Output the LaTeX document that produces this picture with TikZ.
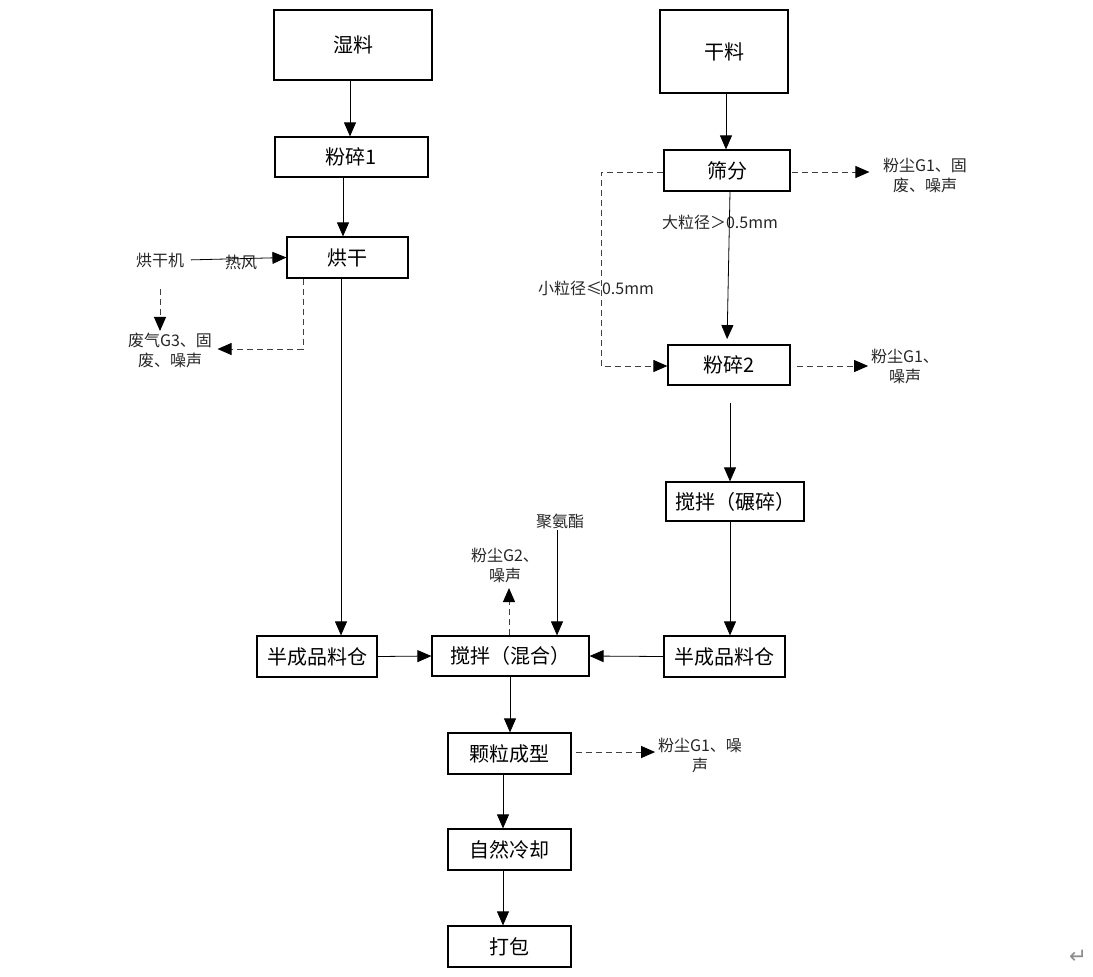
\documentclass[tikz,border=0pt]{standalone}
\usepackage{fontspec}
\setmainfont{Noto Sans CJK SC}
\newfontfamily\symfont{DejaVu Sans}
\usetikzlibrary{arrows.meta,calc}
\begin{document}
\begin{tikzpicture}[x=0.75pt,y=-0.75pt,
 box/.style={draw,line width=0.9pt,inner sep=0pt,font=\fontsize{15}{18}\selectfont},
 lab/.style={inner sep=1pt,align=center,font=\fontsize{12}{15}\selectfont,text=black!85},
 arr/.style={line width=0.6pt,-{Triangle[length=10.5pt,width=9pt]}},
 darr/.style={line width=0.75pt,dash pattern=on 4.5pt off 3pt,draw=black!75,-{Triangle[length=10.5pt,width=9pt,color=black,fill=black]}}
]
\useasboundingbox (0,0) rectangle (1093,976);
% boxes
\node[box,minimum width=118.5pt,minimum height=52.5pt] (shi) at (353,45) {湿料};
\node[box,minimum width=96pt,minimum height=62.25pt] (gan) at (724,51.5) {干料};
\node[box,minimum width=114.75pt,minimum height=30pt] (fs1) at (351.5,157) {粉碎1};
\node[box,minimum width=90.75pt,minimum height=30.75pt] (hg) at (347.5,257.5) {烘干};
\node[box,minimum width=94.5pt,minimum height=30.75pt] (sf) at (727,170.5) {筛分};
\node[box,minimum width=91.5pt,minimum height=30pt] (fs2) at (729,365) {粉碎2};
\node[box,minimum width=103.5pt,minimum height=29.25pt] (ns) at (735,501.5) {搅拌（碾碎）};
\node[box,minimum width=90pt,minimum height=30.75pt] (bL) at (317,656.5) {半成品料仓};
\node[box,minimum width=117.75pt,minimum height=30pt] (hh) at (510.5,656) {搅拌（混合）};
\node[box,minimum width=90.75pt,minimum height=30.75pt] (bR) at (724.5,656.5) {半成品料仓};
\node[box,minimum width=92.25pt,minimum height=30.75pt] (kl) at (509.5,753.5) {颗粒成型};
\node[box,minimum width=92.25pt,minimum height=30.75pt] (zr) at (509.5,849.5) {自然冷却};
\node[box,minimum width=92.25pt,minimum height=30.75pt] (db) at (509.5,946.5) {打包};
% labels
\node[lab] (hgj) at (160,260) {烘干机};
\node[lab] (rf) at (241,262) {热风};
\node[lab] (fq) at (170,350) {废气G3、固\\废、噪声};
\node[lab] (o1) at (925,175) {粉尘G1、固\\废、噪声};
\node[lab] (dl) at (720,222) {大粒径＞0.5mm};
\node[lab] (xl) at (596,288) {小粒径≤0.5mm};
\node[lab] (o2) at (905,366) {粉尘G1、\\噪声};
\node[lab] (jaz) at (560,521) {聚氨酯};
\node[lab] (g2) at (505,565) {粉尘G2、\\噪声};
\node[lab] (o3) at (700,755) {粉尘G1、噪\\声};
\node[text=black!45,font=\symfont\fontsize{16}{18}\selectfont,inner sep=0pt] (pm) at (1078,957) {↵};
% x coordinates
\coordinate (x350) at (350,0);
\coordinate (x343) at (343,0);
\coordinate (x341) at (341,0);
\coordinate (x303) at (303,0);
\coordinate (x160) at (160,0);
\coordinate (x726) at (726,0);
\coordinate (x730) at (730,0);
\coordinate (x727) at (727,0);
\coordinate (x601) at (601,0);
\coordinate (x557) at (557,0);
\coordinate (x509) at (509,0);
\coordinate (x510) at (510,0);
\coordinate (x503) at (503,0);
\coordinate (y349) at (0,349);
\coordinate (y172) at (0,172);
\coordinate (y366) at (0,366);
\coordinate (y752) at (0,752);
% left branch
\draw[arr] (shi.south -| x350) -- (fs1.north -| x350);
\draw[arr] (fs1.south -| x343) -- (hg.north -| x343);
\draw[arr] (hg.south -| x341) -- (bL.north -| x341);
\draw[arr,shorten <=4pt] (hgj.east) -- (hg.west);
\draw[darr,shorten <=15pt] (hgj.south -| x160) -- (fq.north -| x160);
\draw[darr,shorten >=3pt] (hg.south -| x303) -- (x303 |- y349) -- (fq.east |- y349);
% right branch
\draw[arr] (gan.south -| x726) -- (sf.north -| x726);
\draw[darr,shorten <=1pt,shorten >=9pt] (sf.east |- y172) -- (o1.west |- y172);
\draw[arr,shorten >=4pt] (sf.south -| x730) -- (fs2.north -| x727);
\draw[darr] (sf.west |- y172) -- (x601 |- y172) -- (x601 |- y366) -- (fs2.west |- y366);
\draw[darr,shorten <=5pt,shorten >=1pt] (fs2.east |- y366) -- (o2.west |- y366);
\draw[arr,shorten <=12.75pt] (fs2.south -| x730) -- (ns.north -| x730);
\draw[arr] (ns.south -| x730) -- (bR.north -| x730);
% mixing
\draw[arr] (bR.west) -- (hh.east);
\draw[arr] (bL.east) -- (hh.west);
\draw[arr] (jaz.south -| x557) -- (hh.north -| x557);
\draw[darr,shorten >=3pt] (hh.north -| x509) -- (g2.south -| x509);
\draw[arr] (hh.south -| x510) -- (kl.north -| x510);
\draw[darr,shorten <=3pt,shorten >=1pt] (kl.east |- y752) -- (o3.west |- y752);
\draw[arr] (kl.south -| x503) -- (zr.north -| x503);
\draw[arr] (zr.south -| x503) -- (db.north -| x503);
\end{tikzpicture}
\end{document}
